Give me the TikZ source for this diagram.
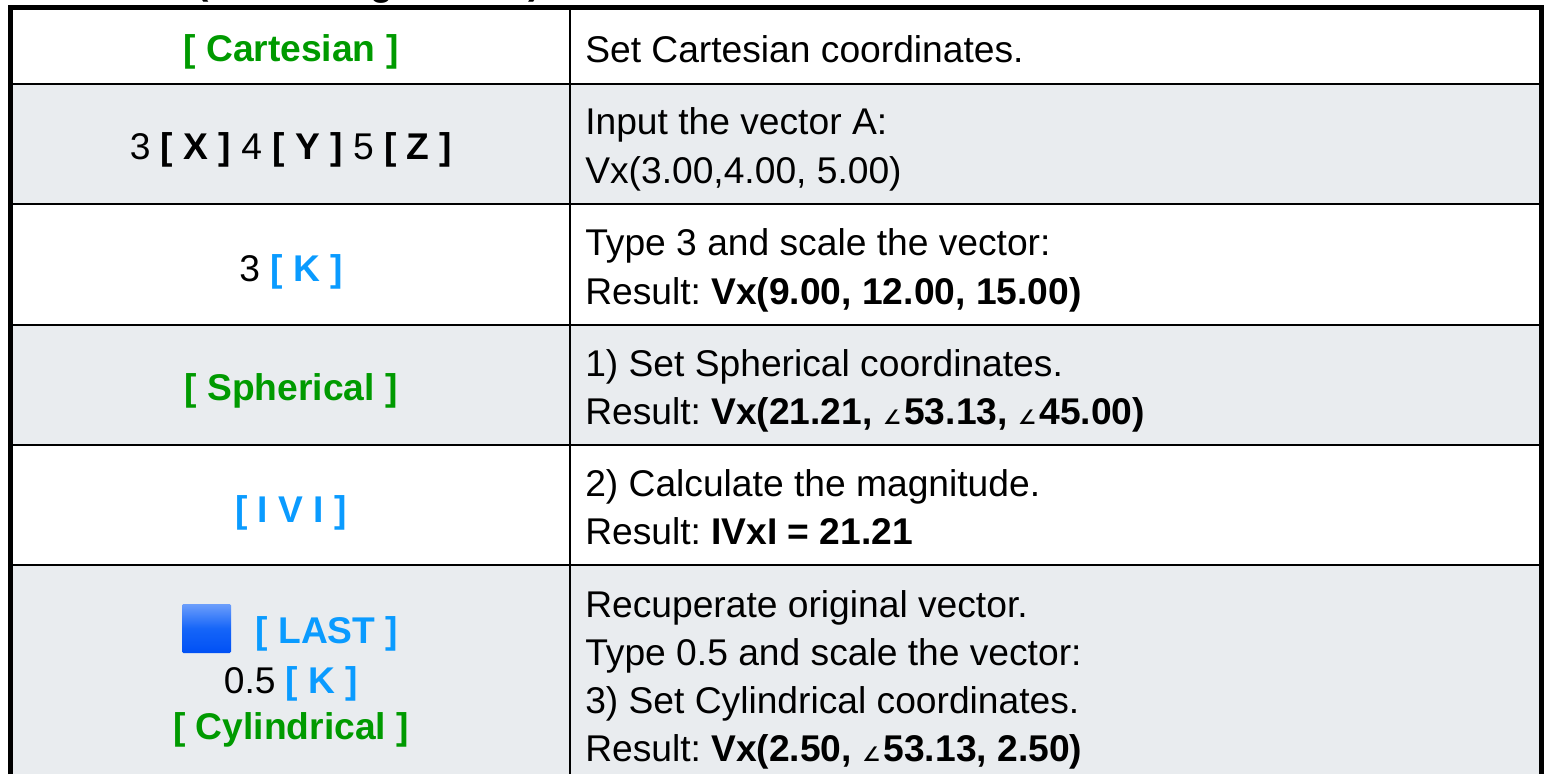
\documentclass[tikz,border=0pt]{standalone}
\usepackage{fontspec}
\setmainfont{Liberation Sans}
\newfontfamily\symfont{DejaVu Sans}
\definecolor{grn}{HTML}{009A00}
\definecolor{blu}{HTML}{0A9BFF}
\definecolor{rowgrey}{HTML}{E9ECEF}
\definecolor{keytop}{HTML}{6C9EFB}
\definecolor{keymid}{HTML}{1565F8}
\definecolor{keybot}{HTML}{0050F5}
\newcommand{\fs}{\fontsize{27.9}{27.9}\selectfont\frenchspacing}
\newcommand{\ang}{{\fontsize{15}{15}\selectfont\symfont ∠}\hspace{2.5pt}}
\newcommand{\gk}[1]{\textcolor{grn}{\textbf{#1}}}
\newcommand{\bk}[1]{\textcolor{blu}{\textbf{#1}}}
\tikzset{
  px/.style={x=0.75pt,y=-0.75pt},
  lbl/.style={anchor=center,align=center,font=\fs,inner sep=0pt},
  txt/.style={anchor=base west,font=\fs,inner sep=0pt},
  cut/.style={anchor=base,font=\fs\bfseries,inner sep=0pt},
  rowline/.style={line width=2pt,draw=black},
  frame/.style={line width=3.75pt,draw=black}
}
\begin{document}
\begin{tikzpicture}[px]
\useasboundingbox (0,0) rectangle (1544,774);
\fill[white] (0,0) rectangle (1544,774);
\fill[rowgrey] (10,85) rectangle (1539,204);
\fill[rowgrey] (10,325) rectangle (1539,445);
\fill[rowgrey] (10,566) rectangle (1539,774);
% text of the title, cut off by the top edge
\begin{scope}
\clip (0,0) rectangle (1544,5);
\node[cut] (t1) at (203,-5) {(};
\node[cut] (t2) at (382,-4) {g};
\node[cut] (t3) at (535,-5) {)};
\end{scope}
% lines
\foreach \y in {84,204,325,445,565} \draw[rowline] (9,\y) -- (1540,\y);
\draw[rowline] (570,8) -- (570,774);
\draw[frame] (10.5,774) -- (10.5,7.75) -- (1541.5,7.75) -- (1541.5,774);
% left
\node[lbl] (a) at (291,51.5) {\gk{[ Cartesian ]}};
\node[lbl] (b) at (291,150) {3 \textbf{[ X ]} 4 \textbf{[ Y ]} 5 \textbf{[ Z ]}};
\node[lbl] (c) at (291,271.5) {3 \bk{[ K ]}};
\node[lbl] (d) at (291,391) {\gk{[ Spherical ]}};
\node[lbl] (e) at (291,512.5) {\bk{[ I V I ]}};
\node[lbl] (f) at (327,633.5) {\bk{[ LAST ]}};
\node[lbl] (g) at (291,683.5) {0.5 \bk{[ K ]}};
\node[lbl] (h) at (291,730) {\gk{[ Cylindrical ]}};
\shade[top color=keytop,bottom color=keybot,middle color=keymid,rounded corners=1pt] (182,604) rectangle (231,653);
% right
\node[txt] at (585,63) {Set Cartesian coordinates.};
\node[txt] at (585,134.5) {Input the vector A:};
\node[txt] at (585,183) {Vx(3.00,4.00, 5.00)};
\node[txt] at (585,255) {Type 3 and scale the vector:};
\node[txt] at (585,304) {Result: \textbf{Vx(9.00, 12.00, 15.00)}};
\node[txt] at (585,376) {1) Set Spherical coordinates.};
\node[txt] at (585,424) {Result: \textbf{Vx(21.21, \ang53.13, \ang45.00)}};
\node[txt] at (585,496) {2) Calculate the magnitude.};
\node[txt] at (585,544) {Result: \textbf{IVxI = 21.21}};
\node[txt] at (585,617) {Recuperate original vector.};
\node[txt] at (585,665) {Type 0.5 and scale the vector:};
\node[txt] at (585,713) {3) Set Cylindrical coordinates.};
\node[txt] at (585,761) {Result: \textbf{Vx(2.50, \ang53.13, 2.50)}};
\end{tikzpicture}
\end{document}
